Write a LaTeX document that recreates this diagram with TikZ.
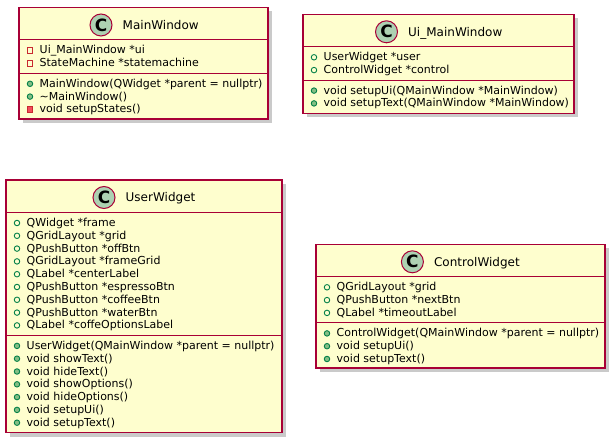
\documentclass[tikz,border=0pt]{standalone}
\usepackage{fontspec}
\setmainfont{DejaVu Sans}
\usetikzlibrary{positioning,shadows}

\definecolor{umlborder}{HTML}{A80036}
\definecolor{umlfill}{HTML}{FEFECE}
\definecolor{iconfill}{HTML}{ADD1B2}
\definecolor{pubgreen}{HTML}{038048}
\definecolor{pubfill}{HTML}{84BE84}
\definecolor{privred}{HTML}{C82930}
\definecolor{privfill}{HTML}{F24D5C}

\tikzset{
  classbox/.style={draw=umlborder, fill=umlfill, line width=1.5bp,
    drop shadow={shadow xshift=4bp, shadow yshift=-4bp, opacity=0.35, fill=black!60}},
  divider/.style={draw=umlborder, line width=1bp},
  classicon/.style={circle, draw=umlborder, fill=iconfill, line width=1bp,
    minimum size=22bp, inner sep=0pt, font=\fontsize{17}{17}\selectfont\bfseries},
  classname/.style={inner sep=0pt, text height=8.8bp, text depth=0pt,
    font=\fontsize{12.05}{14}\selectfont},
  pubfield/.style={circle, draw=pubgreen, line width=0.9bp, minimum size=5.5bp, inner sep=0pt},
  pubmethod/.style={pubfield, fill=pubfill},
  privfield/.style={rectangle, draw=privred, line width=0.9bp, minimum size=5.5bp, inner sep=0pt},
  privmethod/.style={privfield, fill=privfill},
  member/.style={anchor=base west, inner sep=0pt, font=\fontsize{11.04}{13}\selectfont}
}

% #1 left edge, #2 top of the section, #3 kind/text list
\newcommand\members[3]{%
  \foreach \kind/\txt [count=\i from 0] in {#3}
    \node[\kind] at (#1+11,{#2+10.5+12.8*\i}) {}
      node[member] at (#1+20.5,{#2+14+12.8*\i}) {\txt};
}

\begin{document}
\begin{tikzpicture}[x=1bp,y=-1bp]
  \useasboundingbox (0,0) rectangle (615,442);

  % MainWindow
  \draw[classbox] (19,7.5) rectangle (268,119);
  \draw[divider] (19,40) -- (268,40) (19,73.3) -- (268,73.3);
  \node[classicon] (mainwindow) at (101,25) {C};
  \node[classname, right=10bp of mainwindow] (mainwindowname) {MainWindow};
  \members{19}{40}{privfield/Ui\_MainWindow *ui, privfield/StateMachine *statemachine}
  \members{19}{73.3}{pubmethod/MainWindow(QWidget *parent = nullptr),
    pubmethod/\textasciitilde MainWindow(), privmethod/void setupStates()}

  % Ui_MainWindow
  \draw[classbox] (303,14.3) rectangle (574,113.4);
  \draw[divider] (303,46.8) -- (574,46.8) (303,80.1) -- (574,80.1);
  \node[classicon] (uimainwindow) at (386.5,31.8) {C};
  \node[classname, right=10bp of uimainwindow] (uimainwindowname) {Ui\_MainWindow};
  \members{303}{46.8}{pubfield/UserWidget *user, pubfield/ControlWidget *control}
  \members{303}{80.1}{pubmethod/void setupUi(QMainWindow *MainWindow),
    pubmethod/void setupText(QMainWindow *MainWindow)}

  % UserWidget
  \draw[classbox] (6,180) rectangle (282,432.7);
  \draw[divider] (6,212.5) -- (282,212.5) (6,335.4) -- (282,335.4);
  \node[classicon] (userwidget) at (104,197.5) {C};
  \node[classname, right=10bp of userwidget] (userwidgetname) {UserWidget};
  \members{6}{212.5}{pubfield/QWidget *frame, pubfield/QGridLayout *grid,
    pubfield/QPushButton *offBtn, pubfield/QGridLayout *frameGrid,
    pubfield/QLabel *centerLabel, pubfield/QPushButton *espressoBtn,
    pubfield/QPushButton *coffeeBtn, pubfield/QPushButton *waterBtn,
    pubfield/QLabel *coffeOptionsLabel}
  \members{6}{335.4}{pubmethod/UserWidget(QMainWindow *parent = nullptr),
    pubmethod/void showText(), pubmethod/void hideText(),
    pubmethod/void showOptions(), pubmethod/void hideOptions(),
    pubmethod/void setupUi(), pubmethod/void setupText()}

  % ControlWidget
  \draw[classbox] (316,244.3) rectangle (605,368);
  \draw[divider] (316,276.8) -- (605,276.8) (316,322.9) -- (605,322.9);
  \node[classicon] (controlwidget) at (412.4,261.8) {C};
  \node[classname, right=10bp of controlwidget] (controlwidgetname) {ControlWidget};
  \members{316}{276.8}{pubfield/QGridLayout *grid, pubfield/QPushButton *nextBtn,
    pubfield/QLabel *timeoutLabel}
  \members{316}{322.9}{pubmethod/ControlWidget(QMainWindow *parent = nullptr),
    pubmethod/void setupUi(), pubmethod/void setupText()}
\end{tikzpicture}
\end{document}
